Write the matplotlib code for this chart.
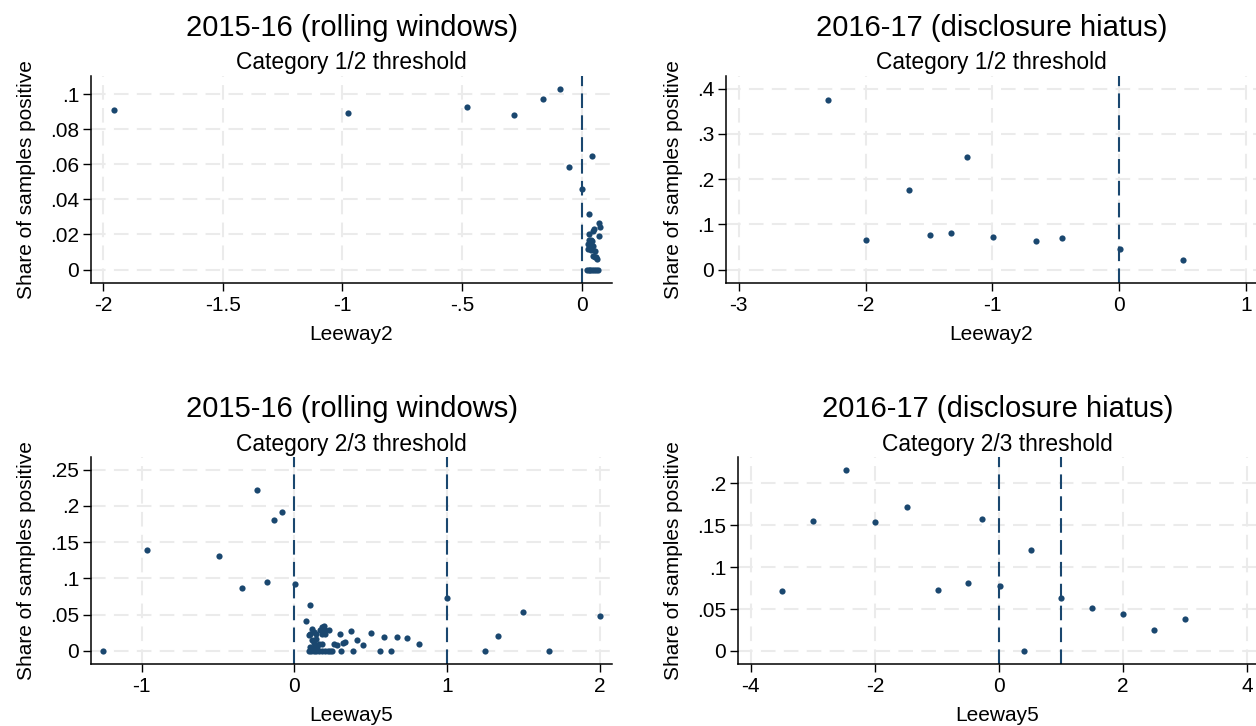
import matplotlib
matplotlib.use("Agg")
import matplotlib.pyplot as plt
from matplotlib.ticker import FixedLocator, FuncFormatter

W, H = 1256, 726
NAVY = "#1a476f"
GRID = "#ebebeb"

plt.rcParams["font.family"] = ["Liberation Sans", "DejaVu Sans"]
plt.rcParams["axes.unicode_minus"] = False

# 2015-16 rolling windows, Leeway2 (category 1/2 threshold)
lw2_1516 = [-1.953, -0.977, -0.480, -0.283, -0.161, -0.092, -0.055, 0.0, 0.042,
            0.032, 0.070, 0.077, 0.046, 0.032, 0.071, 0.039, 0.025, 0.036, 0.046,
            0.025, 0.039, 0.053, 0.046, 0.060, 0.063, 0.053, 0.049, 0.028, 0.042,
            0.020, 0.028, 0.036, 0.044, 0.052, 0.060, 0.068]
share2_1516 = [0.0912, 0.0891, 0.0926, 0.0882, 0.0973, 0.103, 0.0583, 0.0459, 0.065,
               0.0315, 0.0265, 0.024, 0.022, 0.020, 0.019, 0.0166, 0.0147, 0.014, 0.0134,
               0.0116, 0.011, 0.0106, 0.0078, 0.0073, 0.006, 0.007, 0.023, 0.017, 0.016,
               0, 0, 0, 0, 0, 0, 0]

# 2016-17 disclosure hiatus, Leeway2
lw2_1617 = [-2.295, -1.996, -1.659, -1.495, -1.322, -1.199, -0.998, -0.658, -0.450, 0.003, 0.507]
share2_1617 = [0.374, 0.0664, 0.1756, 0.0768, 0.0812, 0.2494, 0.0716, 0.0627, 0.0708, 0.045, 0.0214]

# 2015-16 rolling windows, Leeway5 (category 2/3 threshold)
lw5_1516 = [-1.25, -0.966, -0.492, -0.34, -0.243, -0.18, -0.131, -0.084, 0.005, 0.105,
            0.077, 1.0, 1.25, 1.333, 1.497, 1.665, 2.0,
            0.295, 0.369, 0.504, 0.585, 0.672, 0.738, 0.814, 0.41, 0.45, 0.334, 0.32,
            0.262, 0.28,
            0.094, 0.109, 0.126, 0.144, 0.159, 0.181, 0.203, 0.218, 0.231, 0.247,
            0.306, 0.384, 0.559, 0.629,
            0.116, 0.127, 0.105, 0.094, 0.138, 0.181, 0.192, 0.17, 0.203, 0.225,
            0.181, 0.203, 0.116, 0.127, 0.138, 0.159, 0.181, 0.105, 0.127, 0.149]
share5_1516 = [0, 0.139, 0.131, 0.087, 0.222, 0.095, 0.181, 0.192, 0.093, 0.064,
               0.041, 0.0725, 0, 0.021, 0.054, 0, 0.0485,
               0.023, 0.028, 0.025, 0.019, 0.019, 0.018, 0.010, 0.015, 0.008, 0.012, 0.011,
               0.010, 0.008,
               0, 0, 0, 0, 0, 0, 0, 0, 0, 0,
               0, 0, 0, 0,
               0.030, 0.026, 0.024, 0.022, 0.024, 0.033, 0.0345, 0.029, 0.029, 0.029,
               0.024, 0.023, 0.015, 0.011, 0.017, 0.010, 0.010, 0.006, 0.004, 0.006]

# 2016-17 disclosure hiatus, Leeway5
lw5_1617 = [-3.5, -3.0, -2.473, -1.996, -1.475, -0.985, -0.496, -0.277, 0.013, 0.40,
            0.509, 1.0, 1.507, 2.0, 2.5, 2.994]
share5_1617 = [0.0715, 0.1553, 0.216, 0.1545, 0.1717, 0.0723, 0.0814, 0.1577, 0.077, 0,
               0.120, 0.0635, 0.0515, 0.0447, 0.0248, 0.0387]


def stata_label(v, pos=None):
    # Stata style: no leading zero, plain hyphen for minus
    s = f"{v:g}"
    if s.startswith("0."):
        s = s[1:]
    elif s.startswith("-0."):
        s = "-" + s[2:]
    return s


def panel(fig, box, x, y, title, subtitle, xlabel, xlim, ylim, xticks, yticks, refs):
    left, top, right, bottom = box
    ax = fig.add_axes([left / W, 1 - bottom / H, (right - left) / W, (bottom - top) / H])
    ax.set_xlim(*xlim)
    ax.set_ylim(*ylim)
    ax.xaxis.set_major_locator(FixedLocator(xticks))
    ax.yaxis.set_major_locator(FixedLocator(yticks))
    ax.xaxis.set_major_formatter(FuncFormatter(stata_label))
    ax.yaxis.set_major_formatter(FuncFormatter(stata_label))
    ax.grid(True, color=GRID, linewidth=1.5, linestyle=(0, (7, 4)))
    ax.set_axisbelow(True)
    for r in refs:
        ax.axvline(r, color=NAVY, linewidth=1.5, linestyle=(0, (7, 3.5)), zorder=2)
    ax.scatter(x, y, s=20, color=NAVY, linewidths=0, zorder=3)
    for side in ("top", "right"):
        ax.spines[side].set_visible(False)
    for side in ("left", "bottom"):
        ax.spines[side].set_linewidth(1.1)
    ax.tick_params(axis="both", length=5.5, width=1.0, labelsize=15, direction="out")
    ax.tick_params(axis="x", pad=4)
    ax.tick_params(axis="y", pad=3)
    ax.set_xlabel(xlabel, fontsize=15, labelpad=7)
    ax.set_ylabel("Share of samples positive", fontsize=15, labelpad=10)
    cx = (left + right) / 2 / W
    fig.text(cx, 1 - (top - 40) / H, title, ha="center", va="baseline", fontsize=21)
    fig.text(cx, 1 - (top - 6.5) / H, subtitle, ha="center", va="baseline", fontsize=16.4)
    return ax


fig = plt.figure(figsize=(W / 100, H / 100), dpi=100)

panel(fig, (91, 76, 612, 283), lw2_1516, share2_1516,
      "2015-16 (rolling windows)", "Category 1/2 threshold", "Leeway2",
      (-2.05, 0.126), (-0.0077, 0.1105),
      [-2, -1.5, -1, -0.5, 0], [0, 0.02, 0.04, 0.06, 0.08, 0.1], [0])

panel(fig, (726, 76, 1257, 283), lw2_1617, share2_1617,
      "2016-17 (disclosure hiatus)", "Category 1/2 threshold", "Leeway2",
      (-3.10, 1.087), (-0.0297, 0.428),
      [-3, -2, -1, 0, 1], [0, 0.1, 0.2, 0.3, 0.4], [0])

panel(fig, (91, 457, 612, 664), lw5_1516, share5_1516,
      "2015-16 (rolling windows)", "Category 2/3 threshold", "Leeway5",
      (-1.331, 2.078), (-0.018, 0.2676),
      [-1, 0, 1, 2], [0, 0.05, 0.1, 0.15, 0.2, 0.25], [0, 1])

panel(fig, (738, 457, 1257, 664), lw5_1617, share5_1617,
      "2016-17 (disclosure hiatus)", "Category 2/3 threshold", "Leeway5",
      (-4.206, 4.16), (-0.0156, 0.2316),
      [-4, -2, 0, 2, 4], [0, 0.05, 0.1, 0.15, 0.2], [0, 1])

fig.savefig("out.png", dpi=100)
